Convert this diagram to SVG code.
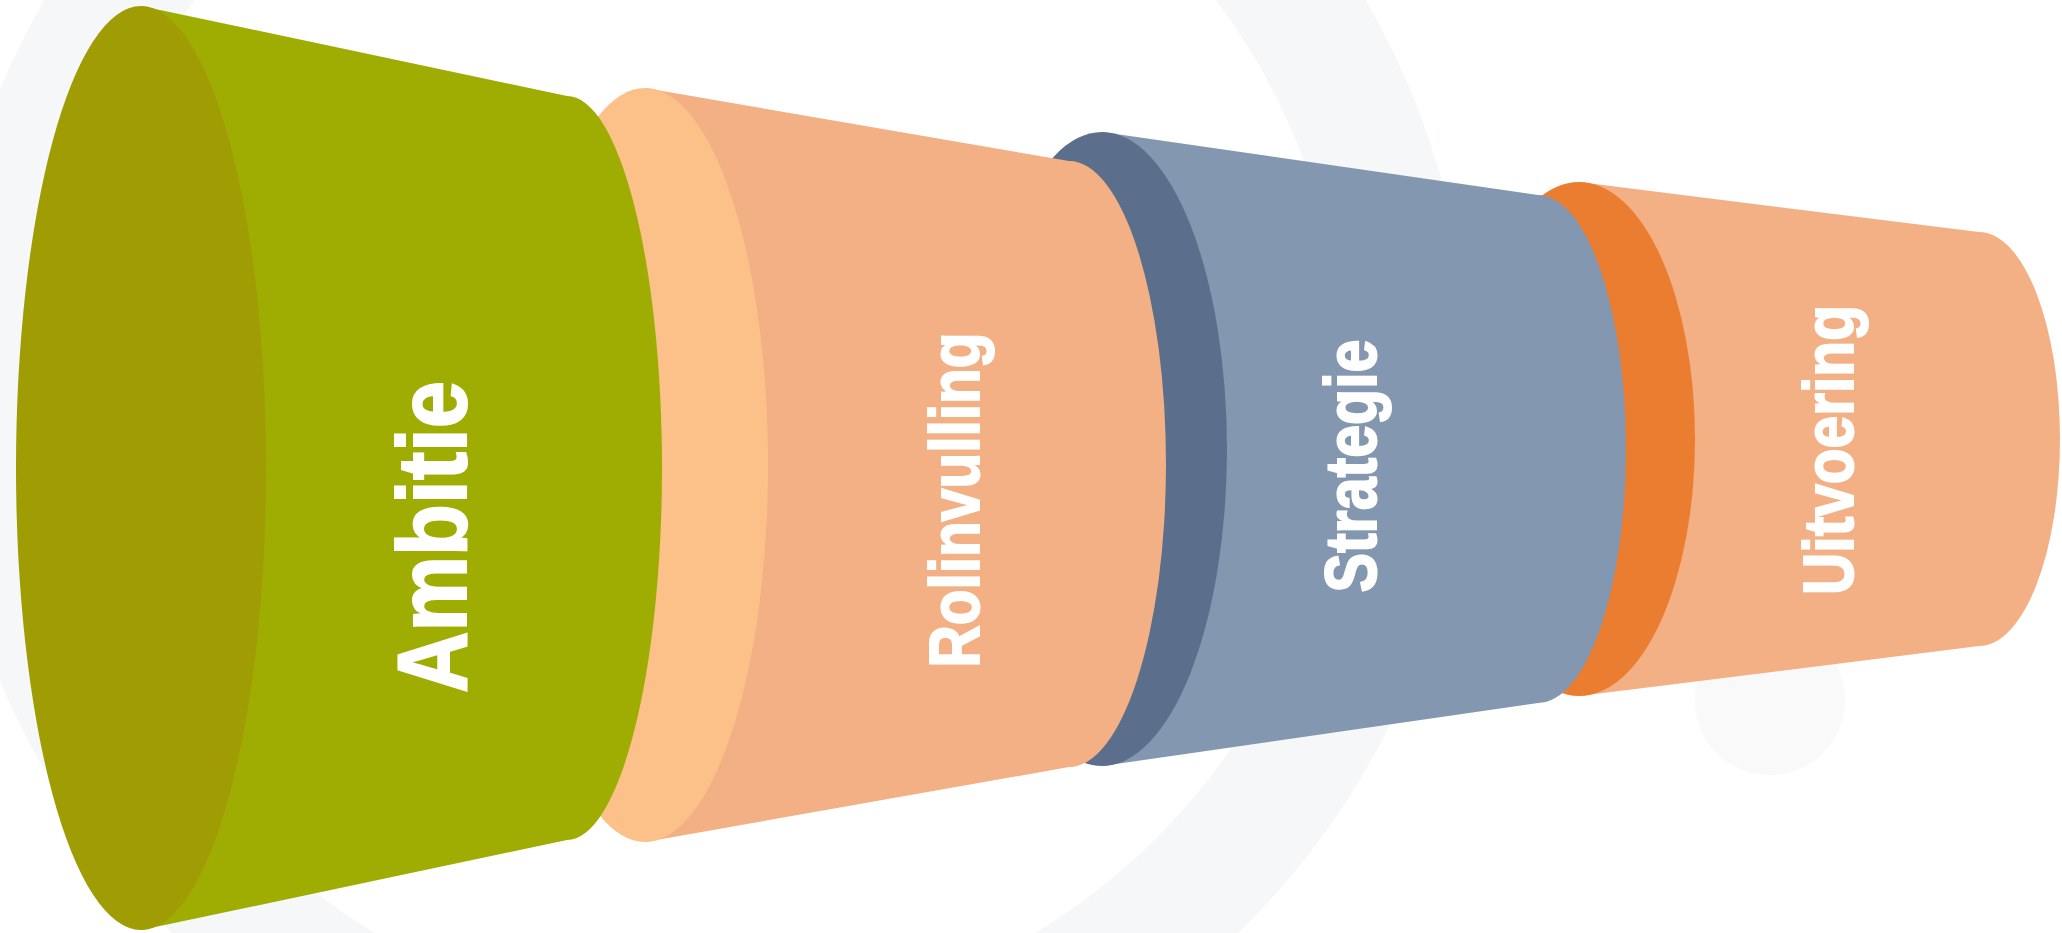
<svg xmlns="http://www.w3.org/2000/svg" width="2062" height="933" viewBox="0 0 2062 933">
  <style>
    .lbl { font-family: "Liberation Sans", Arial, sans-serif; font-weight: bold; fill: #ffffff; stroke: #ffffff; stroke-width: 2; text-anchor: middle; }
    .bg { fill: none; stroke: #F6F7F9; }
  </style>
  <rect width="2062" height="933" fill="#ffffff"/>
  <g id="background">
    <circle class="bg" cx="705" cy="385" r="702" stroke-width="125"/>
    <circle cx="1770" cy="700" r="75" fill="#F9F9F9"/>
  </g>
  <g id="connectors"></g>
  <g id="uitvoering">
    <path d="M1579,182 L1979,232 A81,207 0 0 1 1979,646 L1579,696 Z" fill="#F2B084"/>
    <ellipse cx="1579" cy="439" rx="116" ry="257" fill="#EB7D30"/>
    <text class="lbl" font-size="71" textLength="290" lengthAdjust="spacingAndGlyphs" transform="translate(1853,450) rotate(-90)">Uitvoering</text>
  </g>
  <g id="strategie">
    <path d="M1102,132 L1538,195 A88,254 0 0 1 1538,703 L1102,766 Z" fill="#8497B0"/>
    <ellipse cx="1102" cy="449" rx="125" ry="317" fill="#5B6F8C"/>
    <text class="lbl" font-size="72" textLength="253" lengthAdjust="spacingAndGlyphs" transform="translate(1376,466) rotate(-90)">Strategie</text>
  </g>
  <g id="rolinvulling">
    <path d="M645,88 L1069,161 A97,303 0 0 1 1069,767 L645,842 Z" fill="#F2B084"/>
    <ellipse cx="645" cy="465" rx="123" ry="377" fill="#FCC188"/>
    <text class="lbl" font-size="71" textLength="335" lengthAdjust="spacingAndGlyphs" transform="translate(979,500) rotate(-90)">Rolinvulling</text>
  </g>
  <g id="ambitie">
    <path d="M141,6 L567,96 A95,372 0 0 1 567,840 L141,930 Z" fill="#9FAD03"/>
    <ellipse cx="141" cy="468" rx="125" ry="462" fill="#A09C04"/>
    <text class="lbl" font-size="98" textLength="312" lengthAdjust="spacingAndGlyphs" transform="translate(466,537) rotate(-90)">Ambitie</text>
  </g>
</svg>
